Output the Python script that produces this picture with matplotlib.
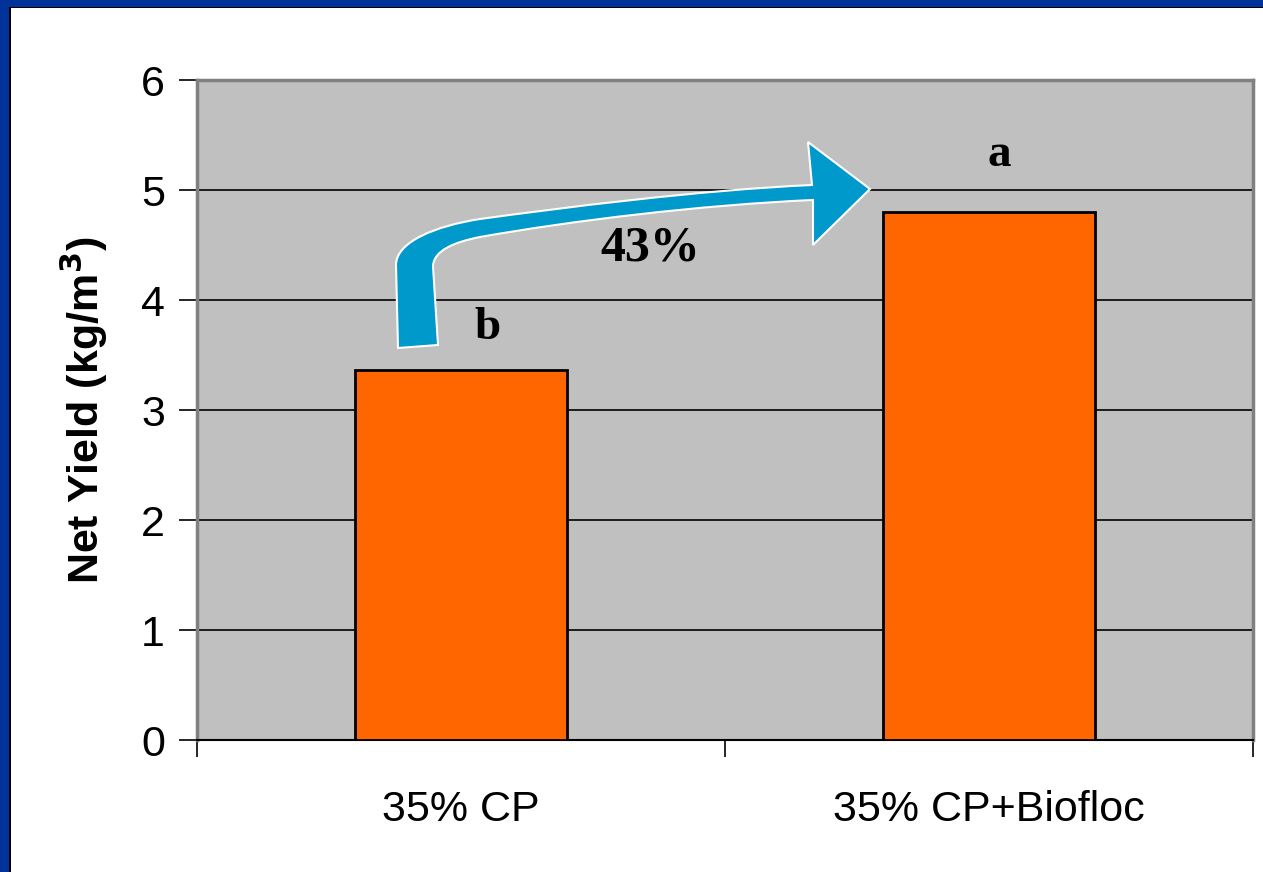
import matplotlib
matplotlib.use('Agg')
import matplotlib.pyplot as plt
from matplotlib.patches import Rectangle, PathPatch
from matplotlib.path import Path
from matplotlib.ticker import FixedLocator

categories = ['35% CP', '35% CP+Biofloc']
net_yield = [3.36, 4.80]
letters = ['b', 'a']
increase_label = '43%'

plt.rcParams['font.family'] = ['Liberation Sans', 'DejaVu Sans']

W, H = 1263, 872
fig = plt.figure(figsize=(W / 100, H / 100), dpi=100)
fig.patch.set_facecolor('white')

# blue slide frame on the left and top edges
fig.patches.append(Rectangle((0, 0), 9 / W, 1, transform=fig.transFigure,
                             facecolor='#003399', edgecolor='none'))
fig.patches.append(Rectangle((0, 1 - 7 / H), 1, 7 / H, transform=fig.transFigure,
                             facecolor='#003399', edgecolor='none'))
fig.patches.append(Rectangle((9 / W, 0), 1.5 / W, 1 - 7 / H, transform=fig.transFigure,
                             facecolor='black', edgecolor='none'))
fig.patches.append(Rectangle((9 / W, 1 - 8.5 / H), 1 - 9 / W, 1.5 / H, transform=fig.transFigure,
                             facecolor='black', edgecolor='none'))

ax = fig.add_axes([197 / W, 1 - 740 / H, (1253 - 197) / W, (740 - 80) / H])
ax.set_facecolor('#C0C0C0')

x = list(range(len(categories)))
ax.bar(x, net_yield, width=0.4, color='#FF6600', edgecolor='black', linewidth=2, zorder=3)

ax.set_xlim(-0.5, len(categories) - 0.5)
ax.set_ylim(0, 6)
ax.set_yticks(range(0, 7))
ax.yaxis.grid(True, color='black', linewidth=1.2, zorder=1)
ax.set_axisbelow(True)

ax.set_xticks(x)
ax.set_xticklabels(categories, fontsize=31)
ax.tick_params(axis='x', which='major', length=0, pad=36)
ax.xaxis.set_minor_locator(FixedLocator([-0.5, 0.5, 1.5]))
ax.tick_params(axis='x', which='minor', length=12, width=1.2, color='black')
ax.tick_params(axis='y', labelsize=31, length=13, width=1.2, pad=10, color='black')

ax.set_ylabel('Net Yield (kg/m$^\\mathbf{3}$)', fontsize=31, fontweight='bold', labelpad=22)

for side in ['top', 'right', 'left']:
    ax.spines[side].set_color('#808080')
    ax.spines[side].set_linewidth(2.5)
ax.spines['bottom'].set_color('black')
ax.spines['bottom'].set_linewidth(1.5)

# significance letters above the bars
letter_offsets = [(0.05, 0.39), (0.02, 0.52)]
for xi, yv, lt, (dx, dy) in zip(x, net_yield, letters, letter_offsets):
    ax.text(xi + dx, yv + dy, lt, fontsize=34, fontweight='bold',
            family='Liberation Serif', ha='center', va='center', zorder=5)

# tapered curved arrow (outline given in image pixels, mapped to data)
inv = ax.transData.inverted()


def px(u, v):
    return tuple(inv.transform((u, H - v)))


M, L, C, Z = Path.MOVETO, Path.LINETO, Path.CURVE4, Path.CLOSEPOLY
arrow_pts = [
    (px(398, 348), M),
    (px(396, 265), L),
    (px(396, 242), C), (px(435, 226), C), (px(480, 219), C),
    (px(560, 208), C), (px(700, 190), C), (px(812, 185), C),
    (px(808, 142), L),
    (px(870, 189), L),
    (px(813, 245), L),
    (px(813, 200), L),
    (px(700, 205), C), (px(570, 221), C), (px(480, 237), C),
    (px(455, 242), C), (px(434, 250), C), (px(433, 266), C),
    (px(438, 345), L),
    (px(398, 348), Z),
]
arrow_path = Path([p for p, _ in arrow_pts], [c for _, c in arrow_pts])
ax.add_patch(PathPatch(arrow_path, facecolor='#0099CC', edgecolor='white',
                       linewidth=1.5, joinstyle='miter', zorder=4))
ax.text(0.358, 4.47, increase_label, fontsize=36, fontweight='bold',
        family='Liberation Serif', ha='center', va='center', zorder=5)

fig.savefig('out.png', dpi=100, facecolor=fig.get_facecolor())
